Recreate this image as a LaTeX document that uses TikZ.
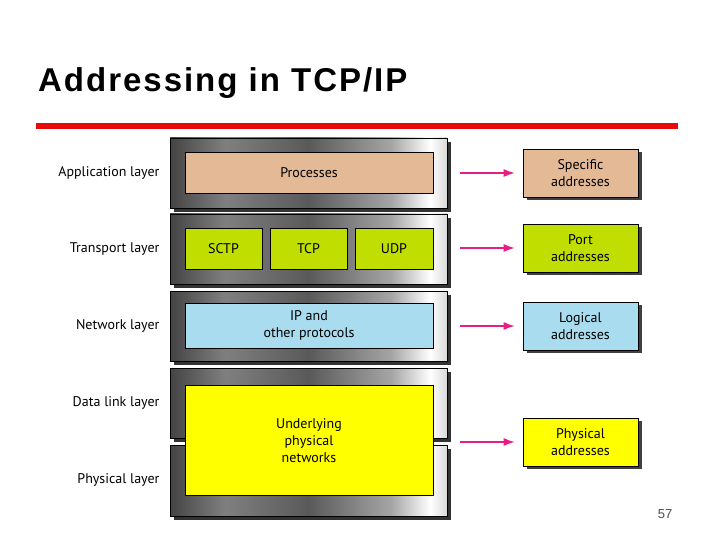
\documentclass[tikz,border=0pt]{standalone}
\usepackage{fontspec}
\setmainfont{Liberation Sans}
\newfontfamily\lab{PT Sans}
\newfontfamily\ttl[LetterSpace=6]{Liberation Sans}
\usetikzlibrary{arrows.meta}
\definecolor{tanc}{RGB}{228,186,150}
\definecolor{lime}{RGB}{192,222,0}
\definecolor{sky}{RGB}{168,220,238}
\definecolor{yel}{RGB}{255,255,0}
\definecolor{pinkar}{RGB}{230,30,130}
\definecolor{redline}{RGB}{230,10,10}
\pgfdeclarehorizontalshading{metal}{100bp}{color(0bp)=(black!95);color(20bp)=(black!85);color(35bp)=(black!50);color(50bp)=(black!65);color(65bp)=(black!35);color(72bp)=(white);color(80bp)=(black!40);color(100bp)=(black)}
\tikzset{
 frame/.style={draw=black,line width=0.8pt,shading=metal},
 shadow/.style={fill=black!80},
 inner/.style={draw=black,line width=0.6pt,font=\lab\fontsize{14}{17}\selectfont,align=center},
 addr/.style={draw=black,line width=0.6pt,font=\lab\fontsize{14}{17}\selectfont,align=center,minimum width=115pt,minimum height=48pt,inner sep=0pt},
 lbl/.style={font=\lab\fontsize{14}{17}\selectfont,anchor=east},
 arr/.style={pinkar,line width=1.4pt,-{Latex[length=11pt,width=8pt]}}
}
\begin{document}
\begin{tikzpicture}[x=1pt,y=-1pt]
\useasboundingbox (0,0) rectangle (720,540);
\node[anchor=west,inner sep=0pt,font=\ttl\bfseries\fontsize{33}{36}\selectfont] (title) at (38,83) {Addressing in TCP/IP};
\fill[redline] (36,123) rectangle (678,129);
\foreach \a/\b in {138/208,214/284,291/361,368/438,445/516}{
 \fill[shadow] (174,\a+4) rectangle (451,\b+4);
 \shade[frame] (170,\a) rectangle (447,\b);
}
\node[inner,fill=tanc,minimum width=248pt,minimum height=41pt] (proc) at (309,172.5) {Processes};
\node[inner,fill=lime,minimum width=77pt,minimum height=41pt] (sctp) at (223.5,248.5) {SCTP};
\node[inner,fill=lime,minimum width=77pt,minimum height=41pt] (tcp) at (308.5,248.5) {TCP};
\node[inner,fill=lime,minimum width=78pt,minimum height=41pt] (udp) at (394,248.5) {UDP};
\node[inner,fill=sky,minimum width=248pt,minimum height=45pt] (ip) at (309,325.5) {IP and\\other protocols};
\node[inner,fill=yel,minimum width=248pt,minimum height=110pt] (net) at (309,440.5) {Underlying\\physical\\networks};
\node[lbl] (l1) at (163,173) {Application layer};
\node[lbl] (l2) at (163,249) {Transport layer};
\node[lbl] (l3) at (163,326) {Network layer};
\node[lbl] (l4) at (163,403) {Data link layer};
\node[lbl] (l5) at (163,480) {Physical layer};
\foreach \n/\y/\c/\t in {a1/173/tanc/{Specific\\addresses},a2/248/lime/{Port\\addresses},a3/326/sky/{Logical\\addresses},a4/442/yel/{Physical\\addresses}}{
 \fill[black!75] (526.5,\y-21) rectangle (641.5,\y+27);
 \node[addr,fill=\c] (\n) at (580.5,\y) {\t};
}
\coordinate (s1) at (460,173); \coordinate (s2) at (460,248);
\coordinate (s3) at (460,326); \coordinate (s4) at (460,442);
\draw[arr] (s1) -- ([xshift=-8pt]a1.west);
\draw[arr] (s2) -- ([xshift=-8pt]a2.west);
\draw[arr] (s3) -- ([xshift=-8pt]a3.west);
\draw[arr] (s4) -- ([xshift=-8pt]a4.west);
\node[font=\fontsize{13}{15}\selectfont,text=black!70] (pg) at (665,514) {57};
\end{tikzpicture}
\end{document}
